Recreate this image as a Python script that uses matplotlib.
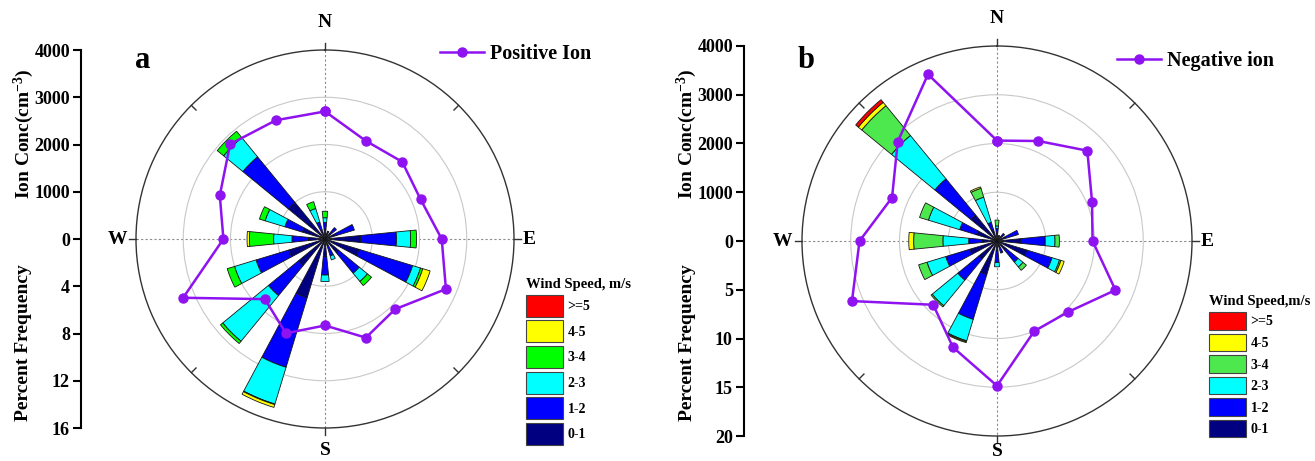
import numpy as np
import matplotlib
matplotlib.use("Agg")
import matplotlib.pyplot as plt
from matplotlib.patches import Patch
from matplotlib.lines import Line2D

plt.rcParams['font.family'] = 'Liberation Serif'
plt.rcParams['font.weight'] = 'bold'
plt.rcParams['mathtext.fontset'] = 'custom'
plt.rcParams['mathtext.rm'] = 'Liberation Serif:bold'
plt.rcParams['mathtext.bf'] = 'Liberation Serif:bold'
plt.rcParams['mathtext.it'] = 'Liberation Serif:italic:bold'

# 16 wind directions, clockwise from north
directions = ['N', 'NNE', 'NE', 'ENE', 'E', 'ESE', 'SE', 'SSE',
              'S', 'SSW', 'SW', 'WSW', 'W', 'WNW', 'NW', 'NNW']
speed_labels = ['0-1', '1-2', '2-3', '3-4', '4-5', '>=5']

# panel a : percent frequency per speed class
a_01 = [0.8, 0.4, 0.6, 1.0, 3.0, 3.0, 1.5, 0.6, 1.5, 5.2, 2.9, 3.2, 1.4, 2.0, 4.0, 0.6]
a_12 = [0.6, 0.3, 0.65, 1.6, 3.05, 4.75, 2.25, 0.9, 1.55, 6.15, 3.3, 2.9, 1.4, 1.55, 5.0, 0.9]
a_23 = [0.4, 0, 0, 0, 1.2, 0.7, 0.9, 0.35, 0.55, 3.25, 5.0, 1.9, 1.55, 1.75, 2.1, 1.2]
a_34 = [0.55, 0, 0, 0, 0.5, 0.2, 0.45, 0, 0, 0.05, 0.25, 0.65, 2.05, 0.5, 0.7, 0.6]
a_45 = [0, 0, 0, 0, 0, 0.65, 0, 0, 0, 0.25, 0, 0, 0.2, 0, 0, 0]
a_5 = [0] * 16
ion_pos = [2700, 2250, 2310, 2190, 2470, 2770, 2100, 2260,
           1830, 2160, 1800, 3250, 2150, 2410, 2840, 2720]

# panel b
b_01 = [0.8, 0.6, 0.5, 0.9, 2.4, 3.2, 1.2, 0.6, 1.0, 3.6, 2.4, 2.9, 1.5, 2.2, 3.45, 1.2]
b_12 = [0.5, 0, 0.5, 1.4, 2.55, 2.7, 1.6, 0.7, 1.2, 4.8, 2.8, 2.6, 1.4, 1.8, 4.8, 0.8]
b_23 = [0.25, 0, 0, 0, 1.0, 0.8, 0.65, 0, 0.45, 2.3, 3.4, 2.0, 2.65, 3.35, 5.75, 2.7]
b_34 = [0.6, 0, 0, 0, 0.45, 0.15, 0.45, 0, 0, 0.1, 0.15, 0.9, 3.0, 0.95, 3.95, 0.95]
b_45 = [0, 0, 0, 0, 0, 0.35, 0, 0, 0, 0.1, 0, 0, 0.5, 0, 0.45, 0.15]
b_5 = [0, 0, 0, 0, 0, 0, 0, 0, 0, 0, 0, 0, 0, 0, 0.35, 0]
ion_neg = [2060, 2220, 2620, 2110, 1960, 2630, 2060, 2000,
           2970, 2360, 1850, 3220, 2820, 2330, 2880, 3700]

ion_ticks = [0, 1000, 2000, 3000, 4000]
pct_a = [4, 8, 12, 16]
pct_b = [5, 10, 15, 20]

purple = '#8f12f0'
W, H = 1315, 461
fig = plt.figure(figsize=(W / 100, H / 100), dpi=100)


def rect(cx, cy, r):
    return [(cx - r) / W, (H - cy - r) / H, 2 * r / W, 2 * r / H]


def panel(cx, cy, r, axis_x, pcts, wind, ion, colors, tag, ion_label,
          leg_xy, ws_xy, ws_title, box_h, box_gap, s_y):
    rmax = pcts[-1]
    theta = np.deg2rad(np.arange(len(directions)) * 22.5)
    width = np.deg2rad(11.25)

    ax = fig.add_axes(rect(cx, cy, r), projection='polar')
    ax.set_theta_zero_location('N')
    ax.set_theta_direction(-1)
    ax.set_axisbelow(True)
    base = np.zeros(len(directions))
    for vals, col in zip(wind, colors):
        vals = np.asarray(vals, dtype=float)
        m = vals > 0
        ax.bar(theta[m], vals[m], width=width, bottom=base[m], color=col,
               edgecolor='#151515', linewidth=0.6, zorder=3)
        base += vals
    ax.set_ylim(0, rmax)
    ax.set_yticks(pcts[:-1])
    ax.set_yticklabels([])
    ax.set_xticks(np.deg2rad([0, 90, 180, 270]))
    ax.set_xticklabels([])
    ax.tick_params(axis='x', length=0)
    ax.xaxis.grid(True, color='#8c8c8c', linestyle=(0, (2, 2)), linewidth=0.8)
    ax.yaxis.grid(True, color='#c8c8c8', linewidth=0.8)
    ax.spines['polar'].set_color('#333333')
    ax.spines['polar'].set_linewidth(1.0)
    for d in [0, 90, 180, 270]:
        ax.plot([np.deg2rad(d)] * 2, [rmax, rmax * 1.035], color='#333333',
                lw=1, clip_on=False)
    for d in [45, 135, 225, 315]:
        ax.plot([np.deg2rad(d)] * 2, [rmax * 0.965, rmax], color='#333333',
                lw=1, clip_on=False)

    off = 28 / (2 * r)
    ax.text(0.5, 1 + off, 'N', transform=ax.transAxes, ha='center',
            va='center', fontsize=14)
    fig.text(cx / W, 1 - s_y / H, 'S', ha='center', va='center', fontsize=14)
    ax.text(-0.05, 0.5, 'W', transform=ax.transAxes, ha='center',
            va='center', fontsize=14)
    ax.text(1.04, 0.5, 'E', transform=ax.transAxes, ha='center',
            va='center', fontsize=14)

    # ion concentration on its own polar axes, same place
    ax2 = fig.add_axes(rect(cx, cy, r), projection='polar', label='ion' + tag)
    ax2.set_theta_zero_location('N')
    ax2.set_theta_direction(-1)
    ax2.set_axis_off()
    ax2.patch.set_alpha(0)
    ax2.set_ylim(0, ion_ticks[-1])
    ax2.plot(np.append(theta, theta[0]), np.append(ion, ion[0]), color=purple,
             lw=1.8, marker='o', ms=6.5, zorder=5)

    # left scale: ion conc above, percent frequency below
    axl = fig.add_axes([axis_x / W, (H - cy - r) / H, 0.0001, 2 * r / H])
    axl.set_ylim(-1, 1)
    pos = [v / ion_ticks[-1] for v in ion_ticks] + [-p / rmax for p in pcts]
    labs = [str(v) for v in ion_ticks] + [str(p) for p in pcts]
    axl.set_yticks(pos)
    axl.set_yticklabels(labs, fontsize=13)
    axl.set_xticks([])
    for s in ['top', 'right', 'bottom']:
        axl.spines[s].set_visible(False)
    axl.spines['left'].set_linewidth(1.5)
    axl.tick_params(axis='y', direction='out', length=6, width=1.5, pad=2)
    axl.patch.set_alpha(0)

    fig.text((axis_x - 57) / W, 1 - 134 / H, r'Ion Conc(cm$^{-3}$)',
             rotation=90, ha='center', va='center', fontsize=14)
    fig.text((axis_x - 57) / W, 1 - 343 / H, 'Percent Frequency',
             rotation=90, ha='center', va='center', fontsize=14)
    fig.text((axis_x + 62) / W, 1 - 61 / H, tag, ha='center', va='center',
             fontsize=22)

    h = [Line2D([], [], color=purple, lw=1.8, marker='o', ms=6.5)]
    fig.legend(h, [ion_label], loc='center left',
               bbox_to_anchor=(leg_xy[0] / W, 1 - leg_xy[1] / H),
               frameon=False, fontsize=14.5, handlelength=2.2,
               handletextpad=0.3, borderpad=0, borderaxespad=0)

    hp = [Patch(facecolor=c, edgecolor='#444444', linewidth=0.8)
          for c in colors[::-1]]
    fig.legend(hp, speed_labels[::-1], title=ws_title, loc='upper left',
               bbox_to_anchor=(ws_xy[0] / W, 1 - ws_xy[1] / H),
               frameon=False, fontsize=10, title_fontsize=10.5,
               handlelength=2.65, handleheight=box_h, labelspacing=box_gap,
               handletextpad=0.35, borderpad=0, borderaxespad=0,
               alignment='left')


cols_a = ['#000080', '#0000ff', '#00ffff', '#00ff00', '#ffff00', '#ff0000']
cols_b = ['#000080', '#0000ff', '#00ffff', '#4de84d', '#ffff00', '#ff0000']

panel(325, 239, 189, 81, pct_a, [a_01, a_12, a_23, a_34, a_45, a_5], ion_pos,
      cols_a, 'a', 'Positive Ion', (440, 54), (526, 278),
      'Wind Speed, m/s', 2.05, 0.27, 450)
panel(997, 241, 195, 744, pct_b, [b_01, b_12, b_23, b_34, b_45, b_5], ion_neg,
      cols_b, 'b', 'Negative ion', (1117, 61), (1209, 295),
      'Wind Speed,m/s', 1.55, 0.3, 451)

fig.savefig('out.png', dpi=100, facecolor='white')
